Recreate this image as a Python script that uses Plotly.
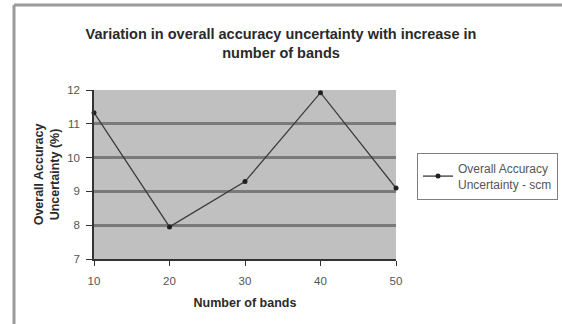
import plotly.graph_objects as go

bands = [10, 20, 30, 40, 50]
uncertainty = [11.33, 7.95, 9.29, 11.92, 9.1]
series_name = "Overall Accuracy<br>Uncertainty - scm"
y_ticks = [7, 8, 9, 10, 11, 12]

L, R, T, B = 94, 396, 90, 259
W, H = 562, 324

def px_x(p):
    return (p - L) / (R - L)

def px_y(p):
    return (B - p) / (B - T)

fig = go.Figure()
fig.add_trace(go.Scatter(
    x=bands, y=uncertainty, mode="lines+markers", name=series_name,
    line=dict(color="#3a3a3a", width=1.3),
    marker=dict(color="#202020", size=5, symbol="circle"),
    cliponaxis=False,
))

fig.update_layout(
    width=W, height=H,
    margin=dict(l=L, r=W - R, t=T, b=H - B, autoexpand=False),
    paper_bgcolor="white",
    plot_bgcolor="#c0c0c0",
    font=dict(family="Liberation Sans, Arial, sans-serif", color="#333333", size=11),
    title=dict(
        text="<b>Variation in overall accuracy uncertainty with increase in<br>number of bands</b>",
        x=281 / W, xref="container", xanchor="center",
        y=1 - 39 / H, yref="container", yanchor="middle",
        font=dict(size=14.5, color="#2a2a2a"),
    ),
    showlegend=True,
    legend=dict(
        x=px_x(417), y=px_y(153), xanchor="left", yanchor="top",
        bordercolor="#808080", borderwidth=1, bgcolor="white",
        font=dict(size=12, color="#555555"),
        itemwidth=30,
    ),
    xaxis=dict(
        range=[10, 50], tickvals=bands, ticks="outside", ticklen=5,
        tickcolor="#333333", showline=True, linecolor="#333333", linewidth=1.5,
        showgrid=False, zeroline=False, ticklabelstandoff=5,
        title=dict(text="<b>Number of bands</b>", font=dict(size=12.5, color="#2a2a2a"), standoff=13),
        tickfont=dict(size=11.5, color="#555555"),
    ),
    yaxis=dict(
        range=[7, 12], tickvals=y_ticks, ticks="outside", ticklen=6,
        tickcolor="#333333", showline=True, linecolor="#333333", linewidth=1.5,
        showgrid=True, gridcolor="#7a7a7a", gridwidth=2.5, zeroline=False,
        ticklabelstandoff=4,
        title=dict(text="<b>Overall Accuracy<br>Uncertainty (%)</b>", font=dict(size=12.5, color="#2a2a2a"), standoff=5),
        tickfont=dict(size=11.5, color="#555555"),
    ),
)

# outer chart frame (left and top borders)
fig.add_shape(type="line", xref="paper", yref="paper",
              x0=px_x(14), x1=px_x(14), y0=px_y(5), y1=px_y(330),
              line=dict(color="#9a9a9a", width=3))
fig.add_shape(type="line", xref="paper", yref="paper",
              x0=px_x(14), x1=px_x(570), y0=px_y(5), y1=px_y(5),
              line=dict(color="#9a9a9a", width=3))

fig.write_html("out.html")
